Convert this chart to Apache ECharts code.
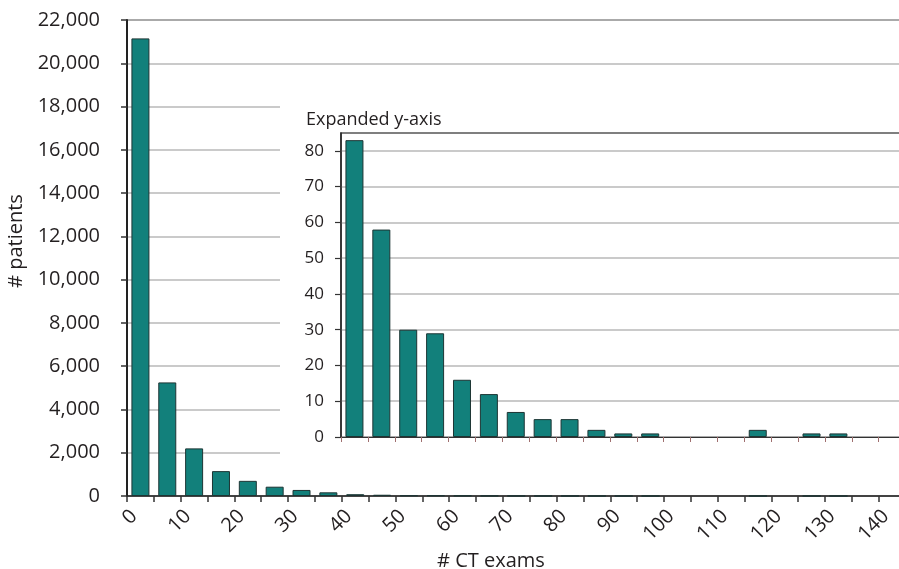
<!DOCTYPE html>
<html>
<head>
<meta charset="utf-8">
<script src="https://cdn.jsdelivr.net/npm/echarts@6/dist/echarts.min.js"></script>
<style>
html,body{margin:0;padding:0;background:#fff;}
#chart{width:899px;height:569px;}
</style>
</head>
<body>
<div id="chart"></div>
<script>
// ---- data ----
const binWidth = 5;
const binStart = [0,5,10,15,20,25,30,35,40,45,50,55,60,65,70,75,80,85,90,95,100,105,110,115,120,125,130,135];
const patients = [21150,5250,2200,1150,700,430,280,170,83,58,30,29,16,12,7,5,5,2,1,1,0,0,0,2,0,1,1,0];
const insetFrom = 40;
const xTickLabels = [0,10,20,30,40,50,60,70,80,90,100,110,120,130,140];
const yTickLabels = [0,2000,4000,6000,8000,10000,12000,14000,16000,18000,20000,22000];
const insetYTickLabels = [0,10,20,30,40,50,60,70,80];
const insetTitle = 'Expanded y-axis';

// empty bins draw nothing
const mainData = binStart.map((s, i) => [s + binWidth / 2, patients[i] === 0 ? '-' : patients[i]]);
const insetData = mainData.filter(d => d[0] > insetFrom);

const FONT = 'Open Sans';
const TXT = '#231f20';
const barStyle = { color: '#12807b', borderColor: '#1d3534', borderWidth: 1 };

const chart = echarts.init(document.getElementById('chart'), null, { renderer: 'canvas' });
chart.setOption({
  animation: false,
  backgroundColor: '#fff',
  textStyle: { fontFamily: FONT, color: TXT },
  title: {
    text: insetTitle, left: 301, top: 106, z: 10,
    textStyle: { fontFamily: FONT, fontSize: 18, fontWeight: 'normal', color: TXT }
  },
  graphic: [{
    type: 'rect', z: 1, silent: true,
    shape: { x: 280, y: 95, width: 640, height: 386 },
    style: { fill: '#fff' }
  }],
  grid: [
    { left: 127, top: 20, right: -12, bottom: 73, outerBoundsMode: 'none', containLabel: false, show: true, borderColor: '#555', borderWidth: 1.5, backgroundColor: 'transparent', z: 0 },
    { left: 341, top: 133, right: -12, bottom: 132, outerBoundsMode: 'none', containLabel: false, show: true, borderColor: '#555', borderWidth: 1.5, backgroundColor: '#fff', z: 3 }
  ],
  xAxis: [
    {
      gridIndex: 0, type: 'value', min: 0, max: 146, interval: 5,
      name: '# CT exams', nameLocation: 'middle', nameGap: 54,
      nameTextStyle: { fontFamily: FONT, fontSize: 20, color: TXT, padding: [0, 56, 0, 0] },
      axisLine: { show: true, onZero: false, lineStyle: { color: '#222', width: 1.5 } },
      axisTick: { show: true, length: 6, lineStyle: { color: '#333', width: 1.5 } },
      axisLabel: { customValues: xTickLabels, rotate: 45, margin: 10, verticalAlign: 'top', fontFamily: FONT, fontSize: 20, color: TXT },
      splitLine: { show: false }
    },
    {
      gridIndex: 1, type: 'value', min: insetFrom, max: 146, interval: 5, z: 3,
      axisLine: { show: true, onZero: false, lineStyle: { color: '#333', width: 1.2 } },
      axisTick: { show: true, length: 5, lineStyle: { color: '#a07070', width: 1 } },
      axisLabel: { show: false },
      splitLine: { show: false }
    }
  ],
  yAxis: [
    {
      gridIndex: 0, type: 'value', min: 0, max: 22000, interval: 1000,
      name: '# patients', nameLocation: 'middle', nameGap: 93,
      nameTextStyle: { fontFamily: FONT, fontSize: 20, color: TXT, padding: [0, 0, 0, 34] },
      axisLine: { show: true, lineStyle: { color: '#222', width: 2 } },
      axisTick: { show: true, customValues: yTickLabels, length: 6, lineStyle: { color: '#333', width: 1.5 } },
      axisLabel: { customValues: yTickLabels, margin: 27, fontFamily: FONT, fontSize: 20, color: TXT,
        formatter: v => Number(v).toLocaleString('en-US') },
      splitLine: { show: true, lineStyle: { color: '#b9b9b9', width: 1.5 } }
    },
    {
      gridIndex: 1, type: 'value', min: 0, max: 85, interval: 5, z: 3,
      axisLine: { show: true, lineStyle: { color: '#222', width: 1.5 } },
      axisTick: { show: true, customValues: insetYTickLabels, length: 6, lineStyle: { color: '#333', width: 1.2 } },
      axisLabel: { customValues: insetYTickLabels, margin: 17, fontFamily: FONT, fontSize: 17, color: TXT },
      splitLine: { show: true, lineStyle: { color: '#b9b9b9', width: 1.5 } }
    }
  ],
  series: [
    { type: 'bar', xAxisIndex: 0, yAxisIndex: 0, barWidth: 18, data: mainData, itemStyle: barStyle, z: 2 },
    { type: 'bar', xAxisIndex: 1, yAxisIndex: 1, barWidth: 18, data: insetData, itemStyle: barStyle, z: 4 }
  ]
});
</script>
</body>
</html>
